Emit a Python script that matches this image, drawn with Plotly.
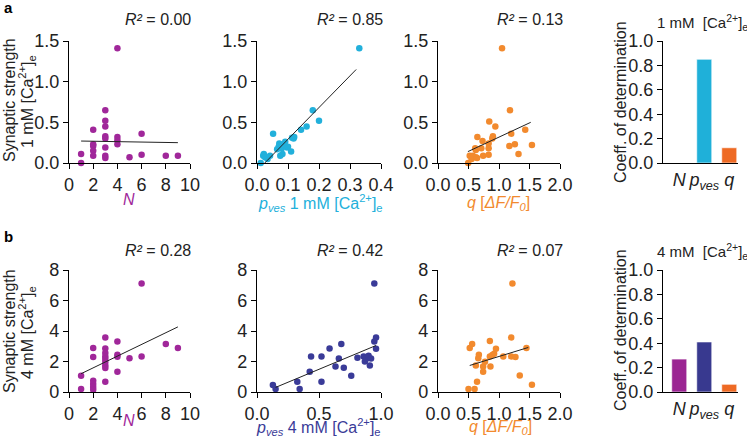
import plotly.graph_objects as go
from plotly.subplots import make_subplots

# ---------------- data ----------------
# Panel a: 1 mM [Ca2+]e
N_a = [1, 1, 2, 2, 2, 2, 2, 3, 3, 3, 3, 3, 3, 3, 3, 4, 4, 4, 4, 5, 6, 6, 8, 9]
S_a_N = [0.11, 0.0, 0.41, 0.23, 0.21, 0.15, 0.09, 0.65, 0.52, 0.45, 0.33, 0.30, 0.19, 0.09, 0.06,
         1.41, 0.32, 0.28, 0.23, 0.07, 0.36, 0.10, 0.09, 0.09]

p_a = [0.012, 0.02, 0.022, 0.026, 0.034, 0.042, 0.052, 0.065, 0.07, 0.072, 0.075, 0.08, 0.082,
       0.086, 0.091, 0.097, 0.10, 0.11, 0.113, 0.118, 0.12, 0.142, 0.16, 0.18, 0.20, 0.33]
S_a_p = [0.0, 0.09, 0.11, 0.07, 0.05, 0.09, 0.36, 0.17, 0.20, 0.24, 0.09, 0.18, 0.11,
         0.22, 0.26, 0.19, 0.20, 0.14, 0.31, 0.30, 0.32, 0.41, 0.45, 0.65, 0.52, 1.41]

q_a = [0.495, 1.05, 1.18, 0.84, 0.94, 1.20, 1.43, 0.645, 0.90, 0.89, 0.73, 0.83, 0.61, 0.62,
       0.83, 0.71, 1.17, 1.26, 1.54, 1.32, 0.52, 0.57, 0.62, 0.74, 0.83, 0.55, 0.64]
S_a_q = [0.0, 1.41, 0.65, 0.51, 0.45, 0.36, 0.41, 0.32, 0.33, 0.30, 0.27, 0.24, 0.18, 0.16,
         0.18, 0.18, 0.21, 0.23, 0.22, 0.11, 0.09, 0.09, 0.07, 0.09, 0.10, 0.05, 0.06]

# Panel b: 4 mM [Ca2+]e
N_b = [1, 1, 2, 2, 2, 2, 2, 2, 3, 3, 3, 3, 3, 3, 3, 3, 3, 4, 4, 4, 4, 5, 6, 6, 8, 9]
S_b_N = [1.07, 0.2, 2.88, 2.29, 0.74, 0.52, 0.33, 0.15, 3.57, 2.85, 2.55, 2.33, 2.16, 1.96,
         1.74, 1.57, 0.68, 3.31, 2.44, 2.31, 1.33, 2.22, 7.12, 2.33, 3.14, 2.88]

p_b = [0.128, 0.15, 0.325, 0.344, 0.425, 0.436, 0.52, 0.52, 0.585, 0.633, 0.66, 0.68, 0.70,
       0.76, 0.81, 0.86, 0.885, 0.87, 0.90, 0.92, 0.91, 0.946, 0.96, 0.946, 0.96]
S_b_p = [0.46, 0.2, 0.68, 0.2, 1.33, 2.33, 0.68, 2.33, 2.85, 1.68, 2.2, 3.14, 1.59,
         1.07, 2.24, 2.33, 2.2, 2.0, 2.37, 2.2, 1.74, 7.12, 3.57, 3.31, 2.83]

q_b = [0.5, 0.6, 0.52, 0.56, 0.62, 0.64, 0.66, 0.67, 0.74, 0.74, 0.77, 0.85, 0.85, 0.86,
       0.89, 0.92, 0.95, 1.07, 1.2, 1.22, 1.2, 1.27, 1.34, 1.45, 1.54]
S_b_q = [0.2, 0.2, 2.88, 3.14, 1.74, 0.68, 2.22, 2.44, 1.68, 1.33, 1.98, 3.35, 2.33, 1.68,
         2.42, 2.5, 2.83, 2.33, 3.57, 7.12, 2.33, 2.29, 1.09, 2.88, 0.48]

# regression line end points
fit_a_N_x, fit_a_N_y = [1, 9], [0.27, 0.25]
fit_a_p_x, fit_a_p_y = [0.025, 0.32], [0.0, 1.15]
fit_a_q_x, fit_a_q_y = [0.49, 1.52], [0.14, 0.50]
fit_b_N_x, fit_b_N_y = [1, 9], [1.2, 4.27]
fit_b_p_x, fit_b_p_y = [0.15, 0.96], [0.3, 3.05]
fit_b_q_x, fit_b_q_y = [0.52, 1.48], [1.74, 2.92]

r2_a = ["0.00", "0.85", "0.13"]
r2_b = ["0.28", "0.42", "0.07"]

bar_cats = ["N", "p", "q"]
bar_labels = ["<i>N</i>", "<i>p<sub>ves</sub></i>", "<i>q</i>"]
bar_a = [0.0, 0.85, 0.125]
bar_b = [0.27, 0.41, 0.063]

# ---------------- style ----------------
C_N = "#A0279A"
C_P1 = "#22B0DB"
C_Q = "#F28A2E"
C_P4 = "#3A3B98"
BAR_N = "#9B2593"
BAR_P1 = "#1FB0D9"
BAR_Q = "#EE6A24"
BAR_P4 = "#38398F"
FONT = "Liberation Sans, Arial, sans-serif"
W, H = 747, 438

fig = make_subplots(rows=2, cols=4)

def add_scatter(r, c, x, y, col, fx, fy):
    fig.add_trace(go.Scatter(x=x, y=y, mode="markers", marker=dict(color=col, size=6.5),
                             cliponaxis=False, showlegend=False), row=r, col=c)
    fig.add_trace(go.Scatter(x=fx, y=fy, mode="lines", line=dict(color="#222", width=1),
                             showlegend=False), row=r, col=c)

add_scatter(1, 1, N_a, S_a_N, C_N, fit_a_N_x, fit_a_N_y)
add_scatter(1, 2, p_a, S_a_p, C_P1, fit_a_p_x, fit_a_p_y)
add_scatter(1, 3, q_a, S_a_q, C_Q, fit_a_q_x, fit_a_q_y)
add_scatter(2, 1, N_b, S_b_N, C_N, fit_b_N_x, fit_b_N_y)
add_scatter(2, 2, p_b, S_b_p, C_P4, fit_b_p_x, fit_b_p_y)
add_scatter(2, 3, q_b, S_b_q, C_Q, fit_b_q_x, fit_b_q_y)

fig.add_trace(go.Bar(x=bar_cats, y=bar_a, width=0.6,
                     marker=dict(color=[BAR_N, BAR_P1, BAR_Q], line=dict(color="rgba(255,255,255,0.6)", width=1)),
                     showlegend=False), row=1, col=4)
fig.add_trace(go.Bar(x=bar_cats, y=bar_b, width=0.6,
                     marker=dict(color=[BAR_N, BAR_P4, BAR_Q], line=dict(color="rgba(255,255,255,0.6)", width=1)),
                     showlegend=False), row=2, col=4)

def px_x(a, b):
    return [a / W, b / W]

def px_y(top, bot):
    return [1 - bot / H, 1 - top / H]

col_dom = [px_x(69, 190), px_x(257, 381), px_x(438, 560), px_x(663, 738)]
row_dom = [px_y(41, 163), px_y(270, 392)]

axis_common = dict(showline=True, linecolor="black", linewidth=1.3, ticks="outside",
                   ticklen=5, tickwidth=1.3, tickcolor="black", showgrid=False, zeroline=False,
                   automargin=False,
                   tickfont=dict(family=FONT, size=18, color="#222"), fixedrange=True)

x_settings = [
    dict(range=[0, 10], tickvals=[0, 2, 4, 6, 8, 10]),
    dict(range=[0, 0.4], tickvals=[0, 0.1, 0.2, 0.3, 0.4], tickformat=".1f"),
    dict(range=[0, 2], tickvals=[0, 0.5, 1, 1.5, 2], tickformat=".1f"),
]
x_settings_b = [
    dict(range=[0, 10], tickvals=[0, 2, 4, 6, 8, 10]),
    dict(range=[0, 1], tickvals=[0, 0.5, 1], tickformat=".1f"),
    dict(range=[0, 2], tickvals=[0, 0.5, 1, 1.5, 2], tickformat=".1f"),
]

for r in range(2):
    for c in range(4):
        idx = r * 4 + c + 1
        xa = "xaxis" if idx == 1 else f"xaxis{idx}"
        ya = "yaxis" if idx == 1 else f"yaxis{idx}"
        xd = dict(axis_common, domain=col_dom[c])
        yd = dict(axis_common, domain=row_dom[r])
        if c < 3:
            xd.update(x_settings[c] if r == 0 else x_settings_b[c])
            if r == 0:
                yd.update(range=[0, 1.5], tickvals=[0, 0.5, 1.0, 1.5], tickformat=".1f")
            else:
                yd.update(range=[0, 8], tickvals=[0, 2, 4, 6, 8])
        else:
            xd.update(range=[-0.65, 2.35], ticks="", tickvals=bar_cats, ticktext=bar_labels,
                      type="category")
            yd.update(range=[0, 1], tickvals=[0, 0.2, 0.4, 0.6, 0.8, 1.0], tickformat=".1f")
        fig.layout[xa].update(xd)
        fig.layout[ya].update(yd)

annotations = []

def ann(text, x, y, size=16, color="#222", xanchor="center", yanchor="middle", angle=0):
    annotations.append(dict(text=text, x=x / W, y=1 - y / H, xref="paper", yref="paper",
                            showarrow=False, xanchor=xanchor, yanchor=yanchor, textangle=angle,
                            font=dict(family=FONT, size=size, color=color)))

ann("<b>a</b>", 2, 7, size=15, color="black", xanchor="left")
ann("<b>b</b>", 2, 236, size=15, color="black", xanchor="left")

r_right = [193, 385, 565]
for i in range(3):
    ann(f"<i>R²</i> = {r2_a[i]}", r_right[i], 19, size=16, xanchor="right")
    ann(f"<i>R²</i> = {r2_b[i]}", r_right[i], 250, size=16, xanchor="right")

ann("Synaptic strength", 9, 100, size=16, angle=-90)
ann("1 mM [Ca<sup>2+</sup>]<sub>e</sub>", 27, 102, size=16, angle=-90)
ann("Synaptic strength", 9, 331, size=16, angle=-90)
ann("4 mM [Ca<sup>2+</sup>]<sub>e</sub>", 27, 333, size=16, angle=-90)

ann("<i>N</i>", 129, 199, size=16, color=C_N)
ann("<i>p<sub>ves</sub></i> 1 mM [Ca<sup>2+</sup>]<sub>e</sub>", 320, 203, size=16, color=C_P1)
ann("<i>q</i> [<i>ΔF/F<sub>0</sub></i>]", 498, 203, size=16, color=C_Q)
ann("<i>N</i>", 129, 420, size=16, color=C_N)
ann("<i>p<sub>ves</sub></i> 4 mM [Ca<sup>2+</sup>]<sub>e</sub>", 318, 427, size=16, color=C_P4)
ann("<i>q</i> [<i>ΔF/F<sub>0</sub></i>]", 500, 427, size=16, color=C_Q)

ann("Coeff. of determination", 620, 102, size=16, angle=-90)
ann("Coeff. of determination", 620, 330, size=16, angle=-90)
ann("1 mM  [Ca<sup>2+</sup>]<sub>e</sub>", 655, 22, size=15, xanchor="left")
ann("4 mM  [Ca<sup>2+</sup>]<sub>e</sub>", 655, 251, size=15, xanchor="left")

fig.update_layout(width=W, height=H, margin=dict(l=0, r=0, t=0, b=0),
                  paper_bgcolor="white", plot_bgcolor="white",
                  font=dict(family=FONT, size=16, color="#222"),
                  annotations=annotations, bargap=0.4)

fig.write_html("out.html", config={"displayModeBar": False},
               post_script="document.body.style.margin='0px';")
